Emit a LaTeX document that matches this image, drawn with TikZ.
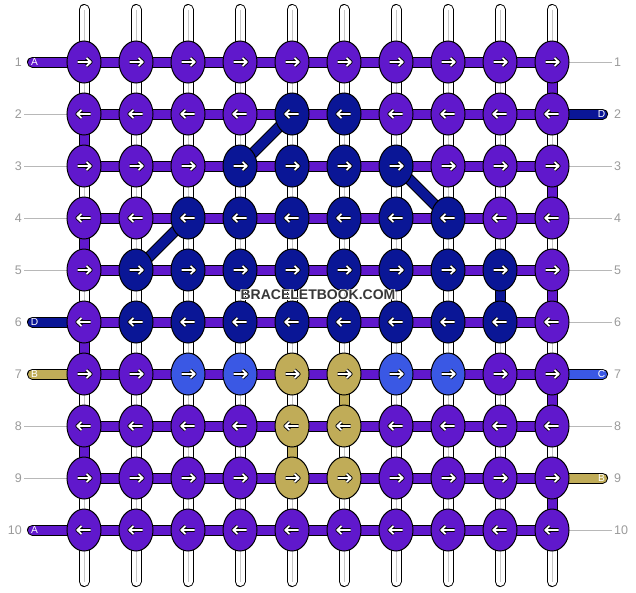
\documentclass[tikz,border=0pt]{standalone}
\usepackage{fontspec}
\setmainfont{Liberation Sans}
\usepackage{contour}
\usetikzlibrary{shapes.geometric}

\definecolor{colP}{HTML}{6018CC}
\definecolor{colD}{HTML}{0A1696}
\definecolor{colC}{HTML}{3A58E4}
\definecolor{colB}{HTML}{C0AC58}
\definecolor{numgray}{HTML}{9A9A9A}
\definecolor{wmgray}{HTML}{383838}
\contourlength{0.8pt}

\tikzset{
  knot/.style={ellipse, draw=black, line width=1pt, minimum width=34pt, minimum height=42pt, inner sep=0pt},
  strand/.style={draw=black, line width=1pt, double=#1, double distance=9pt},
  endstrand/.style={strand=#1, line cap=round},
  guide/.style={draw=numgray!70, line width=0.8pt},
  rownum/.style={text=numgray, font=\fontsize{12.5}{14}\selectfont, inner sep=2pt},
  letter/.style={text=white, font=\fontsize{10.2}{12}\selectfont, inner sep=0pt},
  wmark/.style={text=wmgray, font=\bfseries\fontsize{14}{16}\selectfont, inner sep=0pt},
  pics/dirarrow/.style={code={
    \draw[black, line width=3.6pt, line join=round] ({-6.5*#1},0) -- ({6.5*#1},0) ({2.5*#1},-4) -- ({6.8*#1},0) -- ({2.5*#1},4);
    \draw[white, line width=1.8pt, line join=round] ({-6.5*#1},0) -- ({6.5*#1},0) ({2.5*#1},-4) -- ({6.8*#1},0) -- ({2.5*#1},4);
  }},
}

\begin{document}
\begin{tikzpicture}[x=1pt,y=-1pt]
\useasboundingbox (0,0) rectangle (636,592);

% knot positions
\foreach \r in {1,...,10}
  \foreach \c in {1,...,10}
    \coordinate (p-\r-\c) at ({32+52*\c},{10+52*\r});

% white base strings
\foreach \c in {1,...,10} {
  \coordinate (top-\c) at ({32+52*\c},9.5);
  \coordinate (bot-\c) at ({32+52*\c},581.5);
  \draw[endstrand=white] (top-\c) -- (bot-\c);
  \draw[gray!45, line width=0.8pt] (top-\c) -- (bot-\c);
}

% coloured vertical bits
\foreach \c/\r/\s/\k in {1/2/3/P,1/4/5/P,1/6/7/P,1/8/9/P,10/1/2/P,10/3/4/P,10/5/6/P,10/7/8/P,10/9/10/P,9/5/6/D,6/7/8/B,5/8/9/B}
  \draw[strand=col\k] (p-\r-\c) -- (p-\s-\c);

% diagonals
\draw[strand=colD] (p-2-5) -- (p-3-4);
\draw[strand=colD] (p-4-3) -- (p-5-2);
\draw[strand=colD] (p-3-7) -- (p-4-8);

% rows
\foreach \r in {1,...,10}
  \draw[strand=colP] (p-\r-1) -- (p-\r-10);

% row numbers
\foreach \r in {1,...,10} {
  \node[rownum, anchor=east] (ln-\r) at (24,{10+52*\r}) {\r};
  \node[rownum, anchor=west] (rn-\r) at (612,{10+52*\r}) {\r};
}
\foreach \r in {2,3,4,5,8,9} \draw[guide] (ln-\r) -- (p-\r-1);
\foreach \r in {1,3,4,5,6,8,10} \draw[guide] (p-\r-10) -- (rn-\r);

% loose ends
\foreach \r/\k/\t in {1/P/A,6/D/D,7/B/B,10/P/A} {
  \coordinate (ls-\r) at (32.5,{10+52*\r});
  \draw[endstrand=col\k] (ls-\r) -- (p-\r-1);
  \node[letter] (lt-\r) at (34.5,{10+52*\r}) {\t};
}
\foreach \r/\k/\t in {2/D/D,7/C/C,9/B/B} {
  \coordinate (rs-\r) at (602.5,{10+52*\r});
  \draw[endstrand=col\k] (p-\r-10) -- (rs-\r);
  \node[letter] (rt-\r) at (601.5,{10+52*\r}) {\t};
}

% knots
\foreach \row [count=\r] in {
  {P,P,P,P,P,P,P,P,P,P},
  {P,P,P,P,D,D,P,P,P,P},
  {P,P,P,D,D,D,D,P,P,P},
  {P,P,D,D,D,D,D,D,P,P},
  {P,D,D,D,D,D,D,D,D,P},
  {P,D,D,D,D,D,D,D,D,P},
  {P,P,C,C,B,B,C,C,P,P},
  {P,P,P,P,B,B,P,P,P,P},
  {P,P,P,P,B,B,P,P,P,P},
  {P,P,P,P,P,P,P,P,P,P}}
  \foreach \k [count=\c] in \row {
    \pgfmathtruncatemacro\dir{isodd(\r) ? 1 : -1}
    \node[knot, fill=col\k] (k-\r-\c) at (p-\r-\c) {};
    \pic at (k-\r-\c) {dirarrow=\dir};
  }

\node[wmark] (wm) at (318,295.5) {\contour{white}{BRACELETBOOK.COM}};
\end{tikzpicture}
\end{document}
